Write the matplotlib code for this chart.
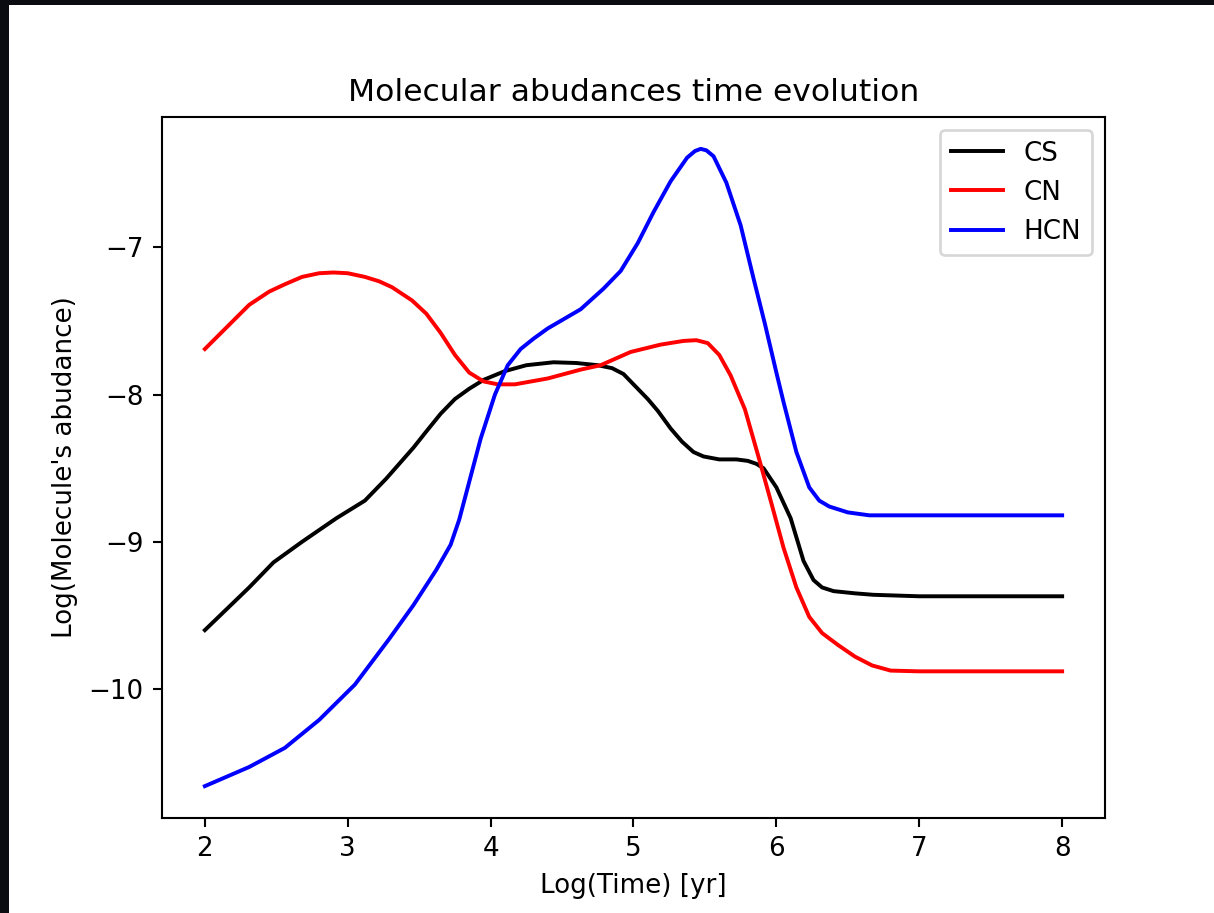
import matplotlib
matplotlib.use("Agg")
import matplotlib.pyplot as plt
from matplotlib.patches import Rectangle

# values (log10 time in yr, log10 abundance)
cs_x = [2.00, 2.31, 2.48, 2.68, 2.92, 3.12, 3.27, 3.46, 3.55, 3.65, 3.75, 3.85, 3.95,
        4.10, 4.25, 4.44, 4.60, 4.75, 4.85, 4.93, 5.03, 5.10, 5.17, 5.26, 5.34, 5.42,
        5.49, 5.60, 5.72, 5.80, 5.86, 5.91, 6.00, 6.10, 6.19, 6.26, 6.32, 6.40, 6.55,
        6.68, 7.00, 8.00]
cs_y = [-9.60, -9.31, -9.14, -9.00, -8.84, -8.72, -8.57, -8.36, -8.25, -8.13, -8.03, -7.96, -7.90,
        -7.84, -7.80, -7.78, -7.785, -7.80, -7.82, -7.86, -7.96, -8.03, -8.11, -8.23, -8.32, -8.39,
        -8.42, -8.44, -8.44, -8.45, -8.47, -8.50, -8.63, -8.84, -9.13, -9.26, -9.31, -9.335, -9.35,
        -9.36, -9.37, -9.37]

cn_x = [2.00, 2.31, 2.45, 2.56, 2.68, 2.80, 2.90, 3.00, 3.12, 3.22, 3.31, 3.45, 3.55,
        3.65, 3.75, 3.85, 3.95, 4.05, 4.17, 4.40, 4.63, 4.77, 4.98, 5.19, 5.35, 5.44,
        5.52, 5.60, 5.68, 5.78, 5.88, 5.96, 6.05, 6.14, 6.23, 6.32, 6.43, 6.55, 6.67,
        6.80, 7.00, 8.00]
cn_y = [-7.69, -7.39, -7.30, -7.25, -7.20, -7.175, -7.17, -7.175, -7.20, -7.23, -7.27, -7.36, -7.45,
        -7.58, -7.73, -7.85, -7.91, -7.93, -7.93, -7.89, -7.83, -7.80, -7.71, -7.66, -7.635, -7.63,
        -7.65, -7.73, -7.87, -8.10, -8.44, -8.72, -9.04, -9.31, -9.51, -9.62, -9.70, -9.78, -9.84,
        -9.875, -9.88, -9.88]

hcn_x = [2.00, 2.31, 2.56, 2.80, 3.05, 3.29, 3.46, 3.62, 3.72, 3.78, 3.84, 3.93, 4.03,
         4.12, 4.21, 4.30, 4.40, 4.63, 4.79, 4.91, 5.03, 5.14, 5.26, 5.375, 5.43, 5.47,
         5.51, 5.56, 5.65, 5.75, 5.84, 5.92, 6.00, 6.05, 6.14, 6.23, 6.30, 6.37, 6.50,
         6.65, 8.00]
hcn_y = [-10.66, -10.53, -10.40, -10.21, -9.97, -9.66, -9.43, -9.19, -9.02, -8.85, -8.63, -8.30, -8.00,
         -7.80, -7.69, -7.62, -7.55, -7.42, -7.28, -7.16, -6.97, -6.76, -6.55, -6.39, -6.345, -6.33,
         -6.34, -6.38, -6.56, -6.85, -7.21, -7.52, -7.85, -8.05, -8.39, -8.63, -8.72, -8.76, -8.80,
         -8.82, -8.82]

W, H = 1214, 913
dpi = 188.5
fig = plt.figure(figsize=(W / dpi, H / dpi), dpi=dpi, facecolor='#0a0c12')
# white canvas of the screenshot, dark strip on top and left
fig.add_artist(Rectangle((9 / W, 0), 1, (H - 5) / H, transform=fig.transFigure,
                         facecolor='white', edgecolor='none', zorder=-1))

ax = fig.add_axes([162 / W, 1 - 818 / H, (1105 - 162) / W, (818 - 117) / H])
ax.plot(cs_x, cs_y, color='black', label='CS')
ax.plot(cn_x, cn_y, color='red', label='CN')
ax.plot(hcn_x, hcn_y, color='blue', label='HCN')

ax.set_title('Molecular abudances time evolution')
ax.set_xlabel('Log(Time) [yr]')
ax.set_ylabel("Log(Molecule's abudance)")
ax.legend(loc='upper right')

fig.savefig('out.png', dpi=dpi)
plt.close()
